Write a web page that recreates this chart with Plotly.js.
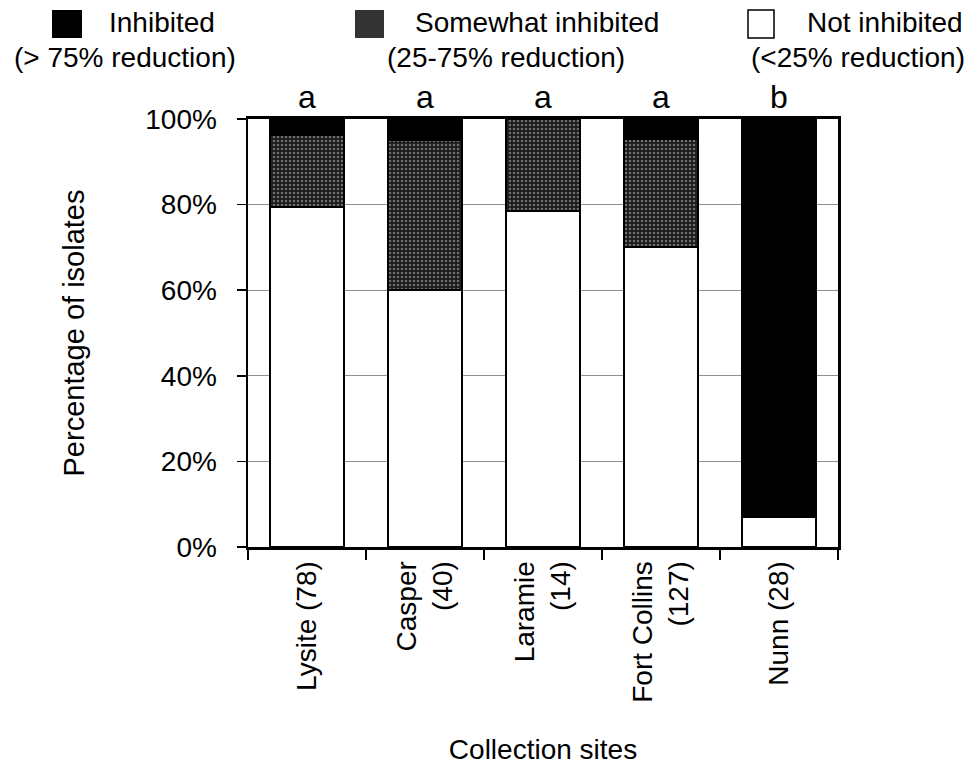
<!DOCTYPE html>
<html>
<head>
<meta charset="utf-8">
<script src="https://cdn.plot.ly/plotly-3.0.1.min.js"></script>
<style>
  html, body { margin: 0; padding: 0; background: #ffffff; }
  #chart { width: 977px; height: 765px; }
</style>
</head>
<body>
<div id="chart"></div>
<script>
// ---- data ----
const sites = ['Lysite (78)', 'Casper<br>(40)', 'Laramie<br>(14)', 'Fort Collins<br>(127)', 'Nunn (28)'];
const notInhibited = [79.5, 60.0, 78.6, 70.1, 7.1];
const somewhatInhibited = [16.7, 35.0, 21.4, 25.2, 0];
const inhibited = [3.8, 5.0, 0, 4.7, 92.9];
const groupLetters = ['a', 'a', 'a', 'a', 'b'];
const seriesNames = ['Not inhibited', 'Somewhat inhibited', 'Inhibited'];
const legendLine1 = ['Inhibited', 'Somewhat inhibited', 'Not inhibited'];
const legendLine2 = ['(> 75% reduction)', '(25-75% reduction)', '(<25% reduction)'];
const yTickVals = [0, 20, 40, 60, 80, 100];
const yTickText = ['0%', '20%', '40%', '60%', '80%', '100%'];

// ---- layout geometry ----
const W = 977, H = 765;
const M = { l: 248, r: 139, t: 119, b: 218 };
const PW = W - M.l - M.r, PH = H - M.t - M.b;
const px = x => (x - M.l) / PW;
const py = y => (H - M.b - y) / PH;
const FONT = 'Liberation Sans, Arial, Helvetica, sans-serif';

const outline = { color: '#000000', width: 2 };

const traces = [
  {
    type: 'bar', name: seriesNames[0], x: sites, y: notInhibited,
    marker: { color: '#ffffff', line: outline },
    hoverinfo: 'x+y+name'
  },
  {
    type: 'bar', name: seriesNames[1], x: sites, y: somewhatInhibited,
    marker: {
      color: '#222222', line: outline,
      pattern: { shape: '.', bgcolor: '#1c1c1c', fgcolor: '#707070', size: 4, solidity: 0.3, fillmode: 'replace' }
    },
    hoverinfo: 'x+y+name'
  },
  {
    type: 'bar', name: seriesNames[2], x: sites, y: inhibited,
    marker: { color: '#000000', line: outline },
    hoverinfo: 'x+y+name'
  }
];

const annotations = [];
// group letters above bars
sites.forEach((s, i) => {
  annotations.push({
    x: s, y: 100, xref: 'x', yref: 'y', text: groupLetters[i],
    showarrow: false, xanchor: 'center', yanchor: 'bottom', yshift: 2,
    font: { family: FONT, size: 32, color: '#000' }
  });
});

// custom legend (swatch + two-line label)
const legendItems = [
  { sw: [52, 82], fill: '#000000', t1x: 107, t2c: 125 },
  { sw: [355, 384], fill: '#333333', t1x: 413, t2c: 506 },
  { sw: [748, 774], fill: '#ffffff', t1x: 805, t2c: 858 }
];
const shapes = [];
legendItems.forEach((it, i) => {
  shapes.push({
    type: 'rect', xref: 'paper', yref: 'paper',
    x0: px(it.sw[0]), x1: px(it.sw[1]), y0: py(38), y1: py(10),
    fillcolor: it.fill, line: { color: '#000', width: i === 2 ? 1.5 : 0 }
  });
  annotations.push({
    xref: 'paper', yref: 'paper', x: px(it.t1x), y: py(23),
    xanchor: 'left', yanchor: 'middle', showarrow: false,
    text: legendLine1[i], font: { family: FONT, size: 28, color: '#000' }
  });
  annotations.push({
    xref: 'paper', yref: 'paper', x: px(it.t2c), y: py(57),
    xanchor: 'center', yanchor: 'middle', showarrow: false,
    text: legendLine2[i], font: { family: FONT, size: 28, color: '#000' }
  });
});

const layout = {
  width: W, height: H,
  margin: { l: M.l, r: M.r, t: M.t, b: M.b, pad: 0 },
  paper_bgcolor: '#ffffff', plot_bgcolor: '#ffffff',
  barmode: 'stack', bargap: 0.37,
  showlegend: false,
  font: { family: FONT, size: 28, color: '#000' },
  xaxis: {
    type: 'category', automargin: false,
    tickson: 'boundaries', ticks: 'outside', ticklen: 10, tickwidth: 1.5, tickcolor: '#000',
    tickangle: -90, tickfont: { family: FONT, size: 28, color: '#000' },
    showline: true, linecolor: '#000', linewidth: 3, mirror: true,
    showgrid: false, zeroline: false,
    title: { text: 'Collection sites', font: { family: FONT, size: 28, color: '#000' }, standoff: 40 }
  },
  yaxis: {
    range: [0, 100], automargin: false,
    tickvals: yTickVals, ticktext: yTickText,
    ticks: 'outside', ticklen: 9, tickwidth: 1.5, tickcolor: '#000',
    ticklabelstandoff: 14,
    tickfont: { family: FONT, size: 28, color: '#000' },
    showline: true, linecolor: '#000', linewidth: 2.5, mirror: true,
    showgrid: true, gridcolor: '#8f8f8f', gridwidth: 1, zeroline: false,
    title: { text: 'Percentage of isolates', font: { family: FONT, size: 29, color: '#000' }, standoff: 52 }
  },
  annotations: annotations,
  shapes: shapes
};

Plotly.newPlot('chart', traces, layout, { displayModeBar: false, staticPlot: true });
</script>
</body>
</html>
